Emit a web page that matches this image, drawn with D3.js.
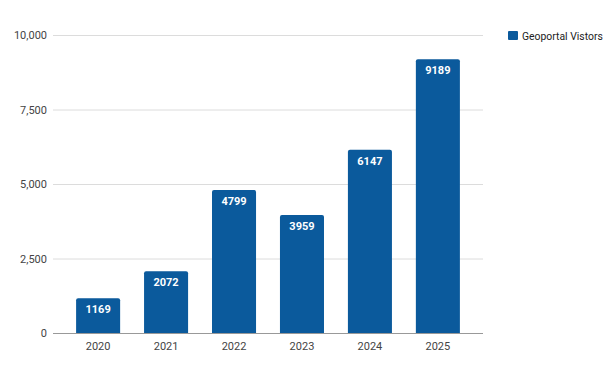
<!DOCTYPE html>
<html>
<head>
<meta charset="utf-8">
<script src="https://cdn.jsdelivr.net/npm/d3@7"></script>
<style>
  body { margin: 0; background: #fff; }
  text { font-family: Roboto, "Noto Sans", sans-serif; }
</style>
</head>
<body>
<svg id="svg" width="614" height="372"></svg>
<script>
const years = ['2020', '2021', '2022', '2023', '2024', '2025']
const visitors = [1169, 2072, 4799, 3959, 6147, 9189]
const yTicks = [0, 2500, 5000, 7500, 10000]
const seriesName = 'Geoportal Vistors'

const barColor = '#0b5a9c'
const svg = d3.select('#svg')

const x = d3.scaleBand()
    .domain(years)
    .range([53, 483])
    .paddingInner(0.352)
    .paddingOuter(0.34)

const y = d3.scaleLinear()
    .domain([0, 10000])
    .range([333, 35])

// gridlines
svg.append('g')
    .selectAll('line')
    .data(yTicks.filter(d => d > 0))
    .enter()
    .append('line')
    .attr('x1', 53)
    .attr('x2', 483)
    .attr('y1', d => y(d) + 0.5)
    .attr('y2', d => y(d) + 0.5)
    .attr('stroke', '#dcdcdc')
    .attr('stroke-width', 1)

// y labels
svg.append('g')
    .selectAll('text')
    .data(yTicks)
    .enter()
    .append('text')
    .attr('x', 47)
    .attr('y', d => y(d) + 4)
    .attr('text-anchor', 'end')
    .attr('font-size', 11)
    .attr('fill', '#444')
    .text(d => d3.format(',')(d))

// bars with slightly rounded tops
const r = 2
svg.append('g')
    .selectAll('path')
    .data(years)
    .enter()
    .append('path')
    .attr('fill', barColor)
    .attr('d', (d, i) => {
        const x0 = x(d), x1 = x(d) + x.bandwidth()
        const top = y(visitors[i]), bot = y(0)
        return `M${x0},${bot}V${top + r}Q${x0},${top} ${x0 + r},${top}H${x1 - r}Q${x1},${top} ${x1},${top + r}V${bot}Z`
    })

// value labels
svg.append('g')
    .selectAll('text')
    .data(years)
    .enter()
    .append('text')
    .attr('x', d => x(d) + x.bandwidth() / 2)
    .attr('y', (d, i) => y(visitors[i]) + 15)
    .attr('text-anchor', 'middle')
    .attr('font-size', 11)
    .attr('font-weight', 'bold')
    .attr('fill', '#fff')
    .text((d, i) => visitors[i])

// baseline
svg.append('line')
    .attr('x1', 53)
    .attr('x2', 483)
    .attr('y1', y(0) + 0.5)
    .attr('y2', y(0) + 0.5)
    .attr('stroke', '#999')
    .attr('stroke-width', 1)

// x labels
svg.append('g')
    .selectAll('text')
    .data(years)
    .enter()
    .append('text')
    .attr('x', d => x(d) + x.bandwidth() / 2)
    .attr('y', 350)
    .attr('text-anchor', 'middle')
    .attr('font-size', 11)
    .attr('fill', '#444')
    .text(d => d)

// legend
const legend = svg.append('g').attr('transform', 'translate(508,31)')
legend.append('rect')
    .attr('width', 10)
    .attr('height', 9)
    .attr('rx', 1)
    .attr('fill', barColor)
legend.append('text')
    .attr('x', 14)
    .attr('y', 8.5)
    .attr('font-size', 10.4)
    .attr('fill', '#222')
    .text(seriesName)
</script>
</body>
</html>
